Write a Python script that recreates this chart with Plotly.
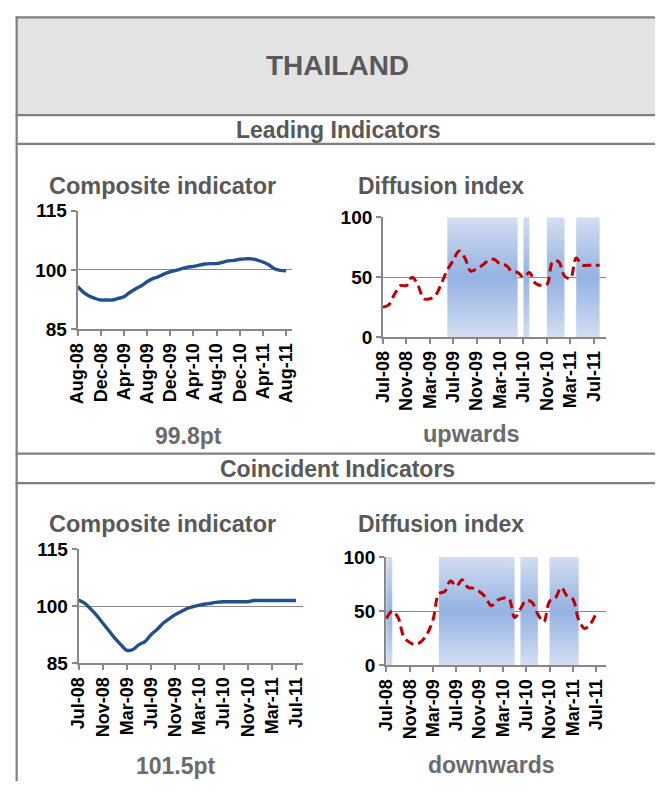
import plotly.graph_objects as go

W, H = 659, 792

# ---------------- data ----------------
lead_comp_ticks = ["Aug-08", "Dec-08", "Apr-09", "Aug-09", "Dec-09", "Apr-10",
                   "Aug-10", "Dec-10", "Apr-11", "Aug-11"]
jul_ticks = ["Jul-08", "Nov-08", "Mar-09", "Jul-09", "Nov-09", "Mar-10",
             "Jul-10", "Nov-10", "Mar-11", "Jul-11"]

# Leading composite indicator, Aug-08 .. Aug-11 (monthly)
lead_comp = [95.8, 94.4, 93.4, 92.8, 92.4, 92.4, 92.4, 92.8, 93.2, 94.3, 95.2, 96.0,
             97.0, 97.8, 98.3, 99.0, 99.5, 99.9, 100.3, 100.7, 100.9, 101.2, 101.5,
             101.6, 101.6, 101.9, 102.3, 102.4, 102.7, 102.8, 102.8, 102.5, 102.0,
             101.3, 100.3, 99.9, 99.8]
# Leading diffusion index, Jul-08 .. Aug-11
lead_diff = [25, 27, 36, 43, 43, 50, 43, 32, 32, 35, 45, 56, 64, 72, 66, 55, 57, 60,
             64, 65, 61, 60, 55, 54, 50, 54, 45, 43, 44, 63, 63, 51, 49, 66, 60, 60,
             60, 60]
# shaded periods (month index from Jul-08: start, end)
lead_shade = [(11, 23), (24, 25), (28, 31), (33, 37)]

# Coincident composite indicator, Jul-08 .. Jul-11
coin_comp = [101.6, 100.8, 99.3, 97.6, 95.6, 93.6, 91.6, 89.9, 88.4, 88.6, 89.9, 90.7,
             92.5, 93.9, 95.5, 96.7, 97.8, 98.6, 99.4, 99.9, 100.3, 100.6, 100.8,
             101.1, 101.2, 101.2, 101.2, 101.2, 101.2, 101.5, 101.5, 101.5, 101.5,
             101.5, 101.5, 101.5, 101.5]
# Coincident diffusion index, Jul-08 .. Jul-11
coin_diff = [43, 50, 44, 26, 21, 19, 22, 29, 42, 66, 68, 78, 73, 79, 72, 71, 68, 63,
             55, 60, 62, 62, 44, 52, 60, 58, 47, 40, 59, 62, 72, 64, 61, 42, 34, 38, 48]
coin_shade = [(0, 1), (9, 22), (23, 26), (28, 33)]

lead_value_label = "99.8pt"
lead_dir_label = "upwards"
coin_value_label = "101.5pt"
coin_dir_label = "downwards"

# ---------------- styling ----------------
FONT = "Liberation Sans, Arial, sans-serif"
GRAY_TXT = "#595959"
LINE_GRAY = "#808080"
AX_GRAY = "#888888"
BLUE = "#23508c"
RED = "#c00000"
SHADE_SCALE = [[0, "#d3def2"], [0.5, "#94b2e2"], [1, "#d3def2"]]


def px(x):
    return x / W


def py(y):
    return 1 - y / H


fig = go.Figure()

panels = [
    ("x", "y", (69, 288), (206, 328), [0, 37], [85, 115], 15, lead_comp_ticks),
    ("x2", "y2", (381, 609), (213, 336), [0, 38.1], [0, 100], 50, jul_ticks),
    ("x3", "y3", (70, 299), (554, 671), [0, 37.1], [85, 115], 15, jul_ticks),
    ("x4", "y4", (384, 609), (562, 673), [-0.1, 37.7], [0, 100], 50, jul_ticks),
]

layout_axes = {}
for i, (xa, ya, xd, yd, xr, yr, dt, tt) in enumerate(panels):
    n = "" if i == 0 else str(i + 1)
    layout_axes["xaxis" + n] = dict(
        domain=[px(xd[0]), px(xd[1])], range=xr, anchor=ya,
        tickvals=list(range(0, 37, 4)), ticktext=tt, tickangle=-90,
        ticks="outside", ticklen=5, tickcolor=AX_GRAY, tickwidth=1.5,
        showline=True, linecolor=AX_GRAY, linewidth=1.6,
        showgrid=False, zeroline=False, fixedrange=True,
        tickfont=dict(family=FONT, size=18, color="black", weight="bold"),
    )
    layout_axes["yaxis" + n] = dict(
        domain=[py(yd[1]), py(yd[0])], range=yr, anchor=xa,
        tick0=yr[0], dtick=dt,
        ticks="outside", ticklen=5, tickcolor=AX_GRAY, tickwidth=1.5,
        showline=True, linecolor=AX_GRAY, linewidth=1.6,
        showgrid=True, gridcolor=AX_GRAY, gridwidth=1.4, zeroline=False,
        fixedrange=True,
        tickfont=dict(family=FONT, size=19, color="black", weight="bold"),
    )


def shade_trace(periods, xa, ya):
    xs, ys = [], []
    for a, b in periods:
        xs += [a, a, b, b, a, None]
        ys += [0, 100, 100, 0, 0, None]
    return go.Scatter(x=xs, y=ys, xaxis=xa, yaxis=ya, mode="lines",
                      fill="toself", line=dict(width=0),
                      fillgradient=dict(type="vertical", colorscale=SHADE_SCALE),
                      hoverinfo="skip", showlegend=False)


fig.add_trace(go.Scatter(x=list(range(len(lead_comp))), y=lead_comp, xaxis="x", yaxis="y",
                         mode="lines", line=dict(color=BLUE, width=3.4, shape="spline"),
                         showlegend=False))
fig.add_trace(shade_trace(lead_shade, "x2", "y2"))
fig.add_trace(go.Scatter(x=list(range(len(lead_diff))), y=lead_diff, xaxis="x2", yaxis="y2",
                         mode="lines",
                         line=dict(color=RED, width=3, shape="spline", dash="9px,5px"),
                         showlegend=False))
fig.add_trace(go.Scatter(x=list(range(len(coin_comp))), y=coin_comp, xaxis="x3", yaxis="y3",
                         mode="lines", line=dict(color=BLUE, width=3.4, shape="spline"),
                         showlegend=False))
fig.add_trace(shade_trace(coin_shade, "x4", "y4"))
fig.add_trace(go.Scatter(x=list(range(len(coin_diff))), y=coin_diff, xaxis="x4", yaxis="y4",
                         mode="lines",
                         line=dict(color=RED, width=3, shape="spline", dash="9px,5px"),
                         showlegend=False))

# ---------------- frame ----------------
shapes = [
    dict(type="rect", xref="paper", yref="paper", x0=px(7), x1=1, y0=py(108), y1=py(7.5),
         fillcolor="#e3e3e3", line=dict(width=0), layer="below"),
]
for yy in [7.5, 108, 137.5, 455.7, 486]:
    shapes.append(dict(type="line", xref="paper", yref="paper", x0=px(5.8), x1=1,
                       y0=py(yy), y1=py(yy), line=dict(color=LINE_GRAY, width=2.2)))
shapes.append(dict(type="line", xref="paper", yref="paper", x0=px(6.8), x1=px(6.8),
                   y0=py(6.5), y1=0, line=dict(color=LINE_GRAY, width=2.2)))


def ann(text, x, y, size, color=GRAY_TXT):
    return dict(text=text, x=px(x), y=py(y), xref="paper", yref="paper",
                xanchor="center", yanchor="middle", showarrow=False,
                font=dict(family=FONT, size=size, color=color, weight="bold"))


annotations = [
    ann("THAILAND", 335, 57, 28),
    ann("Leading Indicators", 335, 123, 23),
    ann("Composite indicator", 156, 181, 23.5),
    ann("Diffusion index", 440, 181, 23),
    ann(lead_value_label, 182, 438, 23, "#6b6b6b"),
    ann(lead_dir_label, 472, 436, 23.5, "#6b6b6b"),
    ann("Coincident Indicators", 335, 471, 23),
    ann("Composite indicator", 156, 528, 23.5),
    ann("Diffusion index", 440, 528, 23),
    ann(coin_value_label, 170, 777, 23, "#6b6b6b"),
    ann(coin_dir_label, 492, 776, 23, "#6b6b6b"),
]

fig.update_layout(
    width=W, height=H, margin=dict(l=0, r=0, t=0, b=0),
    paper_bgcolor="white", plot_bgcolor="rgba(0,0,0,0)",
    shapes=shapes, annotations=annotations, showlegend=False,
    **layout_axes,
)

fig.write_html(
    "out.html",
    config={"displayModeBar": False},
    post_script="document.body.style.margin='0';document.body.style.padding='0';"
                "document.documentElement.style.overflow='hidden';",
)
